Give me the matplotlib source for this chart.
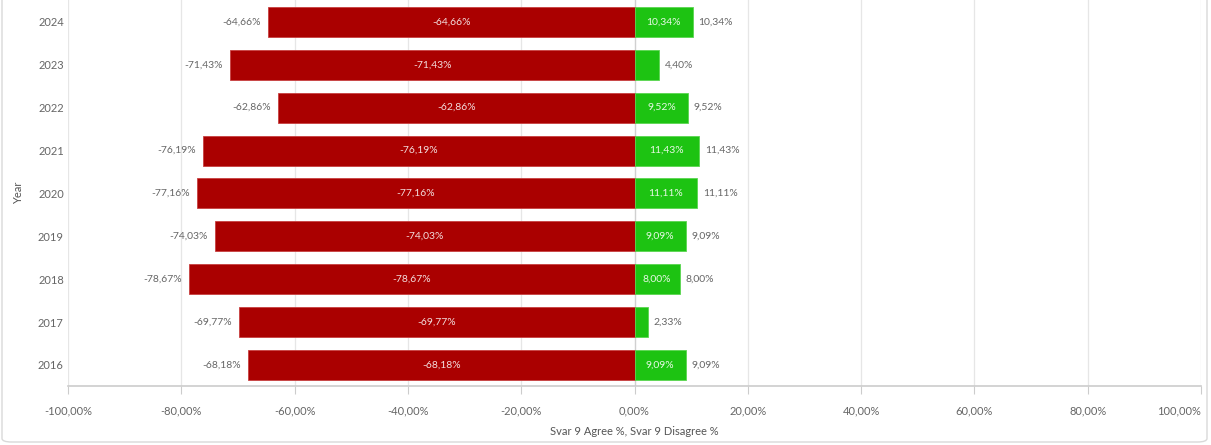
import matplotlib.pyplot as plt
from matplotlib.patches import FancyBboxPatch

plt.rcParams['font.family'] = ['Lato', 'DejaVu Sans']

years = ['2016', '2017', '2018', '2019', '2020', '2021', '2022', '2023', '2024']
agree = [-68.18, -69.77, -78.67, -74.03, -77.16, -76.19, -62.86, -71.43, -64.66]
disagree = [9.09, 2.33, 8.00, 9.09, 11.11, 11.43, 9.52, 4.40, 10.34]
xticks = [-100, -80, -60, -40, -20, 0, 20, 40, 60, 80, 100]

red = '#aa0000'
green = '#1dc312'
txt = '#666666'


def pct(v):
    return f'{v:.2f}%'.replace('.', ',')


fig = plt.figure(figsize=(12.11, 4.45), dpi=100)
ax = fig.add_axes([68 / 1211, 59 / 445, 1133 / 1211, 386 / 445])

pos = list(range(len(years)))
ax.barh(pos, agree, height=0.7, color=red, edgecolor='#c84040', linewidth=0.6, zorder=3)
ax.barh(pos, disagree, height=0.7, color=green, edgecolor='#5ad650', linewidth=0.6, zorder=3)

for i, (a, d) in enumerate(zip(agree, disagree)):
    ax.annotate(pct(a), (a, i), xytext=(-5, 0), textcoords='offset points',
                ha='right', va='center', fontsize=7.5, color=txt)
    ax.text(a / 2, i, pct(a), ha='center', va='center', fontsize=7.5,
            color='#f3dede', zorder=4)
    ax.annotate(pct(d), (d, i), xytext=(4, 0), textcoords='offset points',
                ha='left', va='center', fontsize=7.5, color=txt)
    if d >= 8:
        ax.text(d / 2, i, pct(d), ha='center', va='center', fontsize=7.5,
                color='#e8f8e6', zorder=4)

ax.set_xlim(-100, 100)
ax.set_ylim(-0.49, 8.51)
ax.set_xticks(xticks)
ax.set_xticklabels([pct(v) for v in xticks])
ax.set_yticks(pos)
ax.set_yticklabels(years)
ax.grid(axis='x', color='#e6e6e6', linewidth=0.9, zorder=0)
ax.axvline(0, color='#d0d0d0', linewidth=0.9, zorder=2)

for s in ['top', 'right', 'left']:
    ax.spines[s].set_visible(False)
ax.spines['bottom'].set_color('#cccccc')
ax.spines['bottom'].set_linewidth(1.2)
ax.tick_params(axis='x', length=6, color='#cccccc', labelsize=8, labelcolor=txt, pad=8)
ax.tick_params(axis='y', length=0, labelsize=8, labelcolor=txt, pad=3)
# last tick label kept inside the panel
ax.get_xticklabels()[-1].set_horizontalalignment('right')

ax.set_xlabel('Svar 9 Agree %, Svar 9 Disagree %', fontsize=8, color='#555555', labelpad=7)
ax.set_ylabel('Year', fontsize=8, color='#555555', labelpad=10)

# light rounded frame around the panel
frame = FancyBboxPatch((2 / 1211, 3 / 445), 1205 / 1211, 1.1,
                       boxstyle='round,pad=0,rounding_size=0.008',
                       transform=fig.transFigure, fill=False,
                       edgecolor='#d9d9d9', linewidth=1.0)
fig.patches.append(frame)

fig.savefig('out.png', dpi=100)
